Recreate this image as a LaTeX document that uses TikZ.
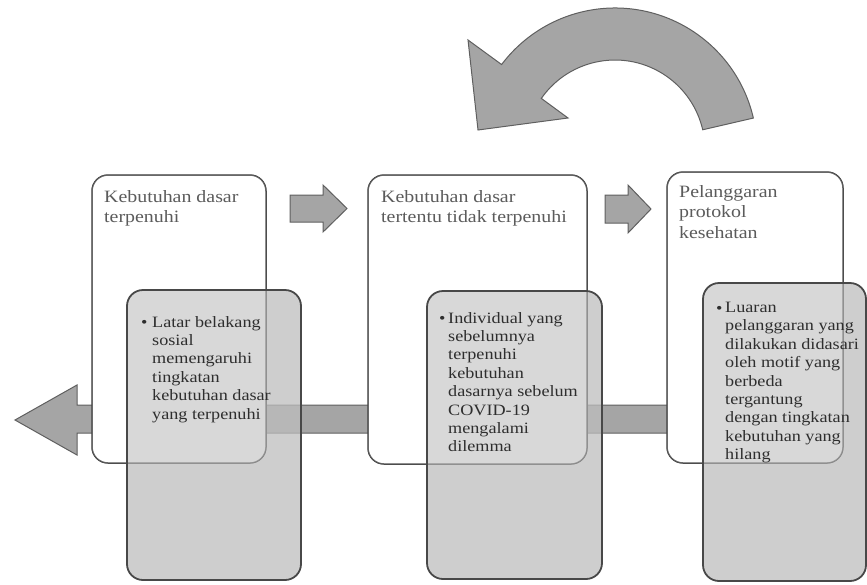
\documentclass[tikz,border=0pt]{standalone}
\usepackage{fontspec}
\setmainfont[FakeStretch=1.15]{Liberation Serif}
\definecolor{edgec}{RGB}{72,72,72}
\definecolor{boxg}{RGB}{190,190,190}
\definecolor{arrf}{RGB}{165,165,165}
\definecolor{arre}{RGB}{95,95,95}
\begin{document}
\begin{tikzpicture}[x=1pt,y=-1pt,
  wbox/.style={draw=edgec, line width=1.5pt, fill=white, rounded corners=16pt, anchor=north west, inner sep=0pt, outer sep=0pt},
  gfill/.style={fill=boxg, fill opacity=0.75, rounded corners=16pt, anchor=north west, inner sep=0pt, outer sep=0pt},
  gedge/.style={draw=edgec, line width=1.8pt, rounded corners=16pt},
  veil/.style={fill=white, fill opacity=0.22, draw=edgec, draw opacity=0.3, line width=1.2pt, rounded corners=16pt},
  blk/.style={draw=arre, line width=1pt, fill=arrf, line join=miter},
  ttl/.style={anchor=north west, inner sep=0pt, align=left, font=\fontsize{17.3}{20.5}\selectfont, text=black!82},
  txt/.style={anchor=north west, inner sep=0pt, align=left, font=\fontsize{15.8}{18.4}\selectfont, text=black!82},
  bul/.style={anchor=base west, inner sep=0pt, font=\fontsize{15.8}{18.4}\selectfont, text=black!82},
]
\useasboundingbox (0,0) rectangle (867,584);

% long bar with arrow to the left
\draw[blk] (15,420) -- (77,385) -- (77,405) -- (760,405) -- (760,433) -- (77,433) -- (77,455) -- cycle;

% white boxes
\node[wbox, minimum width=174pt, minimum height=288pt] (w1) at (92,175) {};
\node[wbox, minimum width=219pt, minimum height=289pt] (w2) at (368,175) {};
\node[wbox, minimum width=176pt, minimum height=291pt] (w3) at (667,172) {};

\node[ttl] (t1) at (104,190) {Kebutuhan dasar\\terpenuhi};
\node[ttl] (t2) at (381,190) {Kebutuhan dasar\\tertentu tidak terpenuhi};
\node[ttl] (t3) at (679,185) {Pelanggaran\\protokol\\kesehatan};

% gray boxes (fill)
\node[gfill, minimum width=174pt, minimum height=290pt] (g1) at (127,290) {};
\node[gfill, minimum width=175pt, minimum height=288pt] (g2) at (427,291) {};
\node[gfill, minimum width=163pt, minimum height=298pt] (g3) at (703,283) {};

% white boxes seen through the gray ones
\draw[veil] (w1.north west) rectangle (w1.south east);
\draw[veil] (w2.north west) rectangle (w2.south east);
\draw[veil] (w3.north west) rectangle (w3.south east);

% gray box borders
\draw[gedge] (g1.north west) rectangle (g1.south east);
\draw[gedge] (g2.north west) rectangle (g2.south east);
\draw[gedge] (g3.north west) rectangle (g3.south east);

% bullet texts
\node[bul] (b1) at (141,327) {•};
\node[txt] (x1) at (152,316) {Latar belakang\\sosial\\memengaruhi\\tingkatan\\kebutuhan dasar\\yang terpenuhi};
\node[bul] (b2) at (439,323) {•};
\node[txt] (x2) at (448,312) {Individual yang\\sebelumnya\\terpenuhi\\kebutuhan\\dasarnya sebelum\\COVID-19\\mengalami\\dilemma};
\node[bul] (b3) at (716,313) {•};
\node[txt] (x3) at (725,302) {Luaran\\pelanggaran yang\\dilakukan didasari\\oleh motif yang\\berbeda\\tergantung\\dengan tingkatan\\kebutuhan yang\\hilang};

% small right arrows
\draw[blk] (290,195) -- (323,195) -- (323,185) -- (347,208.5) -- (323,232) -- (323,222) -- (290,222) -- cycle;
\draw[blk] (605,195) -- (628,195) -- (628,185) -- (651,209) -- (628,233) -- (628,223) -- (605,223) -- cycle;

% curved arrow
\draw[blk] (615,150) ++(-13:142) arc[start angle=-13, end angle=-143, radius=142]
  -- (468,40) -- (478,130) -- (568,118) -- (541.3,98.4)
  arc[start angle=-145, end angle=-13, radius=90] -- cycle;
\end{tikzpicture}
\end{document}
